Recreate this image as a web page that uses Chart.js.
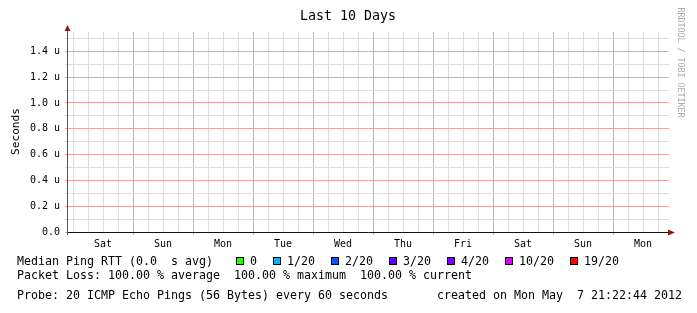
<!DOCTYPE html>
<html>
<head>
<meta charset="utf-8">
<script src="https://cdn.jsdelivr.net/npm/chart.js@4/dist/chart.umd.min.js"></script>
<style>
  html, body { margin: 0; padding: 0; background: #fff; }
  canvas { display: block; }
</style>
</head>
<body>
<canvas id="dvCanvas" width="697" height="313"></canvas>
<script>
  'use strict';

  // chart data
  var titleText = 'Last 10 Days';
  var yTitle = 'Seconds';
  var dayLabels = ['Sat', 'Sun', 'Mon', 'Tue', 'Wed', 'Thu', 'Fri', 'Sat', 'Sun', 'Mon'];
  var medianRtt = [null, null, null, null, null, null, null, null, null, null]; // 100% loss, nothing drawn
  var yTicks = [0, 0.1, 0.2, 0.3, 0.4, 0.5, 0.6, 0.7, 0.8, 0.9, 1.0, 1.1, 1.2, 1.3, 1.4, 1.5];
  var yTickLabels = ['0.0', '', '0.2 u', '', '0.4 u', '', '0.6 u', '', '0.8 u', '', '1.0 u', '', '1.2 u', '', '1.4 u', ''];
  var lossLabels = ['0', '1/20', '2/20', '3/20', '4/20', '10/20', '19/20'];
  var lossColors = ['#26ff00', '#00b8ff', '#0059ff', '#5e00ff', '#7e00ff', '#dd00ff', '#ff0000'];
  var lossSummary = [100, 100, 100]; // average, maximum, current
  var avgRtt = '0.0  s';
  var probeText = 'Probe: 20 ICMP Echo Pings (56 Bytes) every 60 seconds';
  var createdText = 'created on Mon May  7 21:22:44 2012';
  var watermark = 'RRDTOOL / TOBI OETIKER';

  var MONO = '"DejaVu Sans Mono", "Liberation Mono", monospace';
  var HOURS_PER_DAY = 24;
  var MAJOR = '#e9a3a3';
  var MINOR = '#dddddd';

  var xTicks = [];
  for (var h = 0; h <= 234; h += 6) xTicks.push(h);

  var xGridColors = xTicks.map(function(v) {
    return (v > 0 && v % HOURS_PER_DAY === 0) ? MAJOR : MINOR;
  });
  var xTickColors = xTicks.map(function(v) {
    return (v > 0 && v % HOURS_PER_DAY === 0) ? MAJOR : 'rgba(0,0,0,0)';
  });
  var yGridColors = yTicks.map(function(v, i) {
    return i % 2 === 0 ? MAJOR : MINOR;
  });

  var rttPoints = medianRtt.map(function(v, i) {
    return { x: 12 + i * HOURS_PER_DAY, y: v };
  });

  var rrdDecor = {
    id: 'rrdDecor',
    afterDraw: function(chart) {
      var ctx = chart.ctx;
      var area = chart.chartArea;
      ctx.save();

      // axis extensions and arrows
      ctx.strokeStyle = '#555';
      ctx.lineWidth = 1;
      ctx.beginPath();
      ctx.moveTo(area.left + 0.5, area.top);
      ctx.lineTo(area.left + 0.5, area.top - 4);
      ctx.moveTo(area.left + 0.5, area.bottom);
      ctx.lineTo(area.left + 0.5, area.bottom + 3);
      ctx.stroke();

      ctx.fillStyle = '#7f1f1f';
      ctx.beginPath();
      ctx.moveTo(area.left + 0.5, area.top - 7);
      ctx.lineTo(area.left - 2.5, area.top - 1);
      ctx.lineTo(area.left + 3.5, area.top - 1);
      ctx.closePath();
      ctx.fill();

      ctx.strokeStyle = '#111';
      ctx.beginPath();
      ctx.moveTo(area.right, area.bottom + 0.5);
      ctx.lineTo(area.right + 1, area.bottom + 0.5);
      ctx.stroke();
      ctx.beginPath();
      ctx.moveTo(area.right + 6, area.bottom + 0.5);
      ctx.lineTo(area.right - 1, area.bottom - 2.5);
      ctx.lineTo(area.right - 1, area.bottom + 3.5);
      ctx.closePath();
      ctx.fill();

      // title
      ctx.fillStyle = '#000';
      ctx.font = '13.3px ' + MONO;
      ctx.textAlign = 'center';
      ctx.textBaseline = 'alphabetic';
      ctx.fillText(titleText, 348, 20);

      // vertical unit label
      ctx.save();
      ctx.font = '11.1px ' + MONO;
      ctx.translate(19, 131.5);
      ctx.rotate(-Math.PI / 2);
      ctx.fillText(yTitle, 0, 0);
      ctx.restore();

      // watermark
      ctx.save();
      ctx.fillStyle = '#a8a8a8';
      ctx.font = '8.3px ' + MONO;
      ctx.translate(678, 62.5);
      ctx.rotate(Math.PI / 2);
      ctx.fillText(watermark, 0, 0);
      ctx.restore();

      // legend
      ctx.font = '11.63px ' + MONO;
      ctx.textAlign = 'left';
      ctx.fillStyle = '#000';
      ctx.fillText('Median Ping RTT (' + avgRtt + ' avg)', 17, 264.5);

      var tx = 250;
      lossLabels.forEach(function(lbl, i) {
        var bx = Math.round(tx - 14);
        ctx.fillStyle = lossColors[i];
        ctx.fillRect(bx, 257, 8, 8);
        ctx.strokeStyle = '#000';
        ctx.strokeRect(bx + 0.5, 257.5, 7, 7);
        ctx.fillStyle = '#000';
        ctx.fillText(lbl, tx, 264.5);
        tx += ctx.measureText(lbl).width + 30;
      });

      var f = function(v) { return v.toFixed(2) + ' %'; };
      ctx.fillText('Packet Loss: ' + f(lossSummary[0]) + ' average  ' +
        f(lossSummary[1]) + ' maximum  ' + f(lossSummary[2]) + ' current', 17, 278.5);
      ctx.fillText(probeText + '       ' + createdText, 17, 299);

      ctx.restore();
    }
  };

  var ctx = document.getElementById('dvCanvas').getContext('2d');
  var myChart = new Chart(ctx, {
    type: 'line',
    data: {
      datasets: [{
        label: 'Median Ping RTT',
        data: rttPoints,
        borderColor: '#26ff00',
        pointRadius: 0,
        spanGaps: false
      }]
    },
    options: {
      responsive: false,
      animation: false,
      devicePixelRatio: 1,
      layout: { padding: { left: 0, top: 32, right: 28, bottom: 0 } },
      plugins: {
        legend: { display: false },
        title: { display: false },
        tooltip: { enabled: false }
      },
      scales: {
        x: {
          type: 'linear',
          min: -2.4,
          max: 238.4,
          afterFit: function(scale) { scale.height = 81; },
          afterBuildTicks: function(scale) {
            scale.ticks = xTicks.map(function(v) { return { value: v }; });
          },
          grid: {
            color: xGridColors,
            tickColor: xTickColors,
            tickLength: 3,
            lineWidth: 1
          },
          border: { display: true, color: '#111', width: 1 },
          ticks: {
            autoSkip: false,
            maxRotation: 0,
            padding: 3,
            color: '#000',
            font: { family: MONO, size: 10 },
            callback: function(value) {
              if (value % HOURS_PER_DAY === 12) {
                return dayLabels[(value - 12) / HOURS_PER_DAY];
              }
              return '';
            }
          }
        },
        y: {
          type: 'linear',
          min: 0,
          max: 1.55,
          afterFit: function(scale) { scale.width = 67; },
          afterBuildTicks: function(scale) {
            scale.ticks = yTicks.map(function(v) { return { value: v }; });
          },
          grid: {
            color: yGridColors,
            tickColor: yGridColors,
            tickLength: 2,
            lineWidth: 1
          },
          border: { display: true, color: '#555', width: 1 },
          ticks: {
            autoSkip: false,
            padding: 5,
            color: '#000',
            font: { family: MONO, size: 10 },
            callback: function(value, index) {
              return yTickLabels[index];
            }
          }
        }
      }
    },
    plugins: [rrdDecor]
  });
</script>
</body>
</html>
